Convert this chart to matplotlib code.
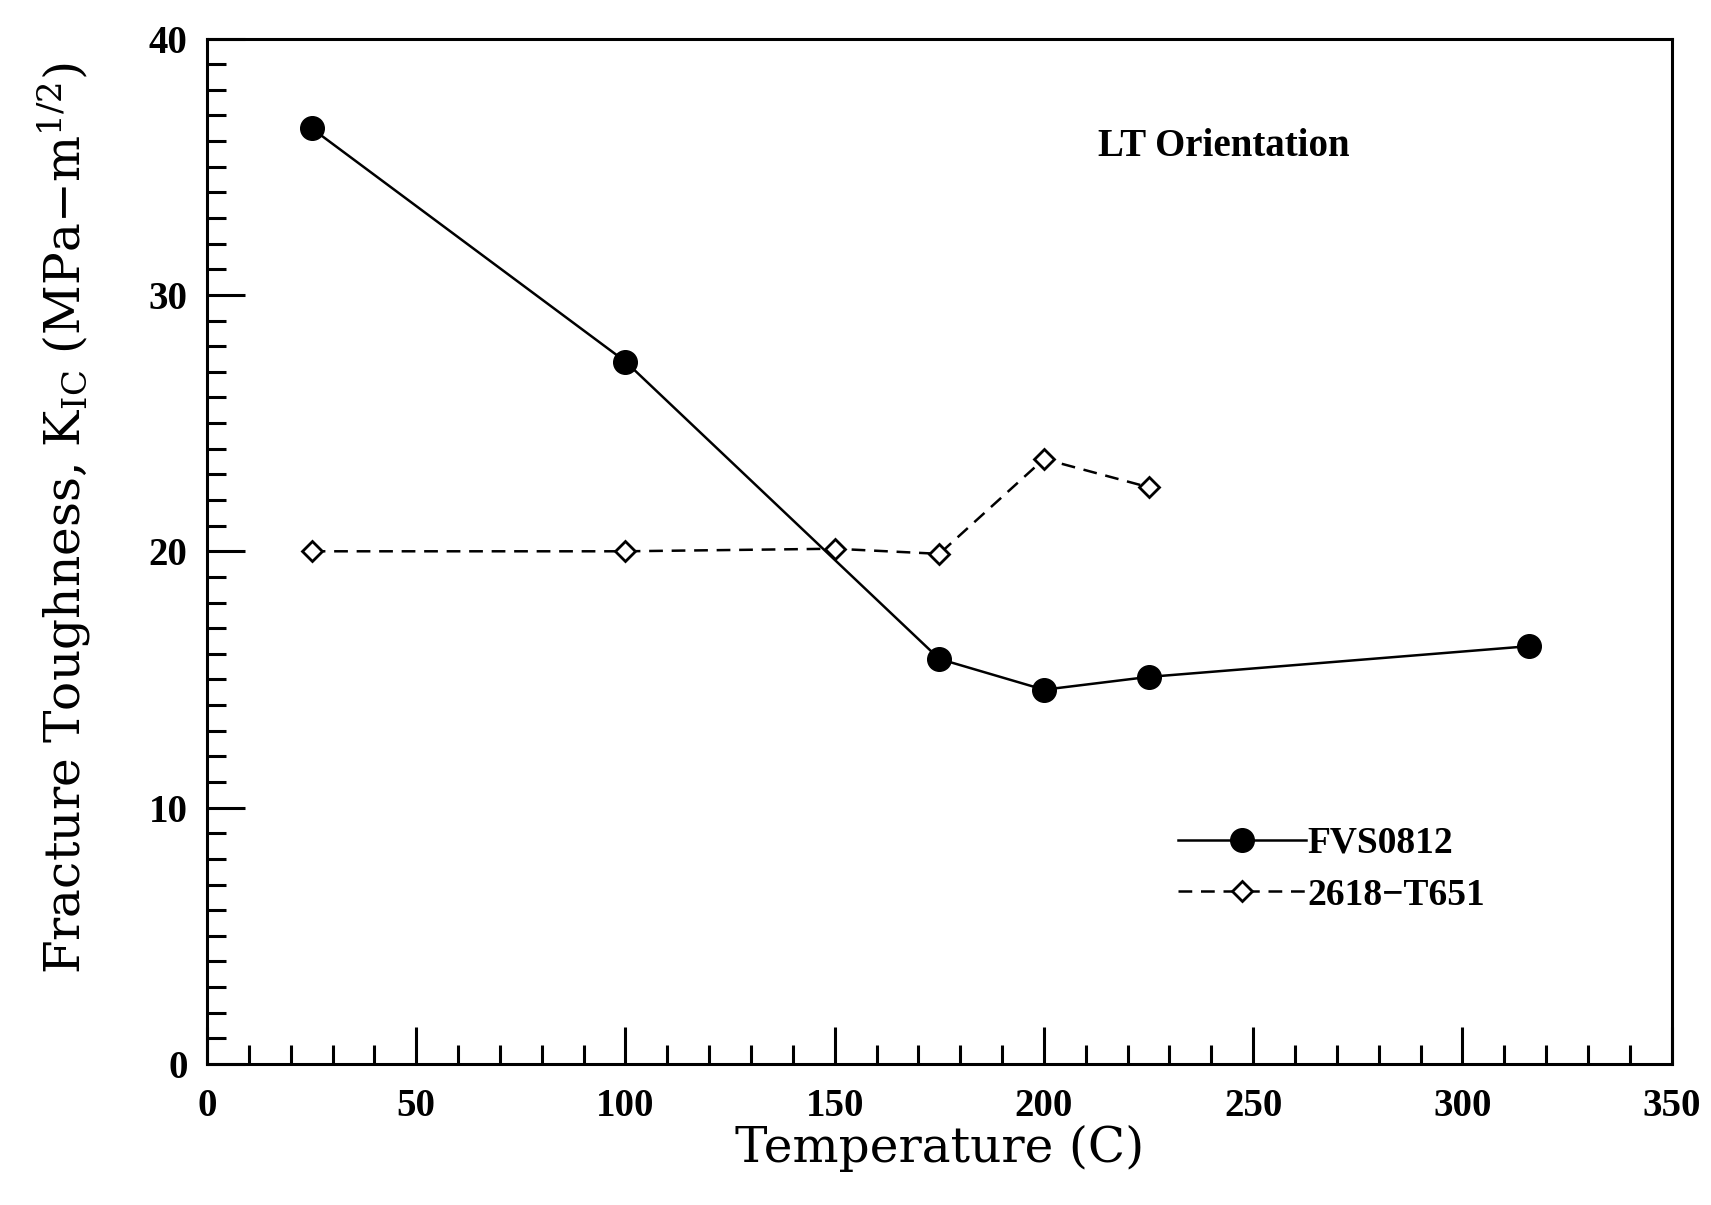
import numpy as np
import matplotlib
matplotlib.use("Agg")
import matplotlib.pyplot as plt
from matplotlib.ticker import MultipleLocator

# data
temp_fvs = [25, 100, 175, 200, 225, 316]
kic_fvs = [36.5, 27.4, 15.8, 14.6, 15.1, 16.3]

temp_2618 = [25, 100, 150, 175, 200, 225]
kic_2618 = [20.0, 20.0, 20.1, 19.9, 23.6, 22.5]

plt.rcParams['font.family'] = ['DejaVu Serif']
plt.rcParams['mathtext.fontset'] = 'custom'
plt.rcParams['mathtext.rm'] = 'DejaVu Serif'
plt.rcParams['mathtext.it'] = 'DejaVu Serif'

fig = plt.figure(figsize=(17.11, 12.05), dpi=100)
ax = fig.add_axes([0.121, 0.117, 0.856, 0.851])

ax.plot(temp_fvs, kic_fvs, '-', color='black', lw=1.8, marker='o', ms=17,
        mfc='black', mec='black', label='FVS0812')
ax.plot(temp_2618, kic_2618, '--', color='black', lw=1.8, dashes=(5.5, 3.5), marker='D', ms=10,
        mfc='white', mec='black', mew=2, label='2618\u2212T651')

ax.set_xlim(0, 350)
ax.set_ylim(0, 40)
ax.xaxis.set_major_locator(MultipleLocator(50))
ax.xaxis.set_minor_locator(MultipleLocator(10))
ax.yaxis.set_major_locator(MultipleLocator(10))
ax.yaxis.set_minor_locator(MultipleLocator(1))

ax.tick_params(which='both', direction='in', top=False, right=False, width=2.2)
ax.tick_params(which='major', length=27, pad=14)
ax.tick_params(axis='x', which='major', pad=17)
ax.tick_params(which='minor', length=14)
for lab in ax.get_xticklabels() + ax.get_yticklabels():
    lab.set_fontfamily('Liberation Serif')
    lab.set_fontweight('bold')
    lab.set_fontsize(28)
for s in ax.spines.values():
    s.set_linewidth(2.2)

ax.set_xlabel('Temperature (C)', fontsize=35, labelpad=0)
ax.set_ylabel(r'Fracture Toughness, K$_{\rm IC}$ (MPa$-$m$^{1/2}$)', fontsize=35)
ax.yaxis.set_label_coords(-0.078, 0.532)

ax.text(243, 35.8, 'LT Orientation', fontsize=28, fontweight='bold', ha='center', va='center',
        family='Liberation Serif')

leg = ax.legend(loc='center left', bbox_to_anchor=(0.64, 0.19), frameon=False,
                prop={'family': 'Liberation Serif', 'weight': 'bold', 'size': 27},
                handlelength=3.4, handletextpad=0.05, labelspacing=0.45)

fig.savefig('out.png', dpi=100)
